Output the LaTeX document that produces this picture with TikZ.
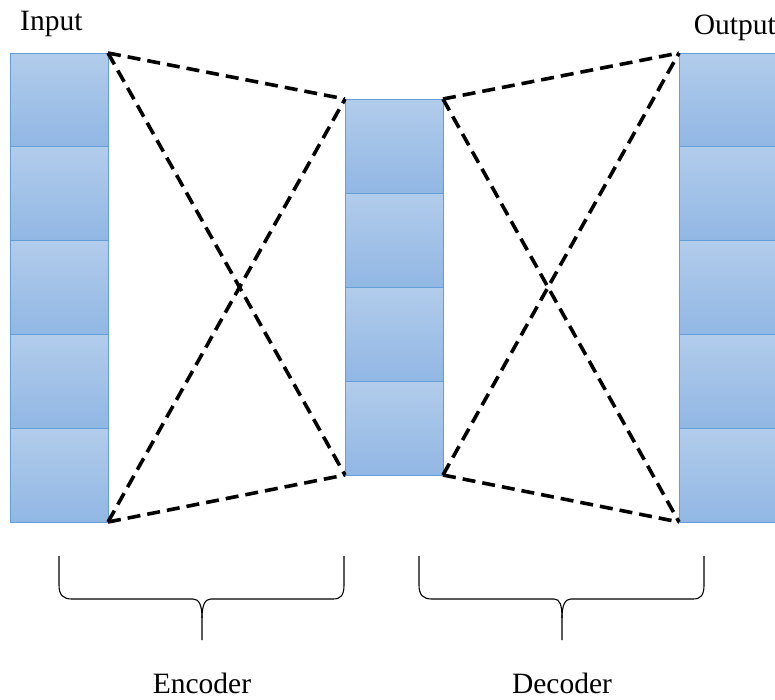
\documentclass[tikz,border=0pt]{standalone}
\usepackage{fontspec}
\setmainfont{Liberation Serif}
\definecolor{celltop}{RGB}{178,204,235}
\definecolor{cellbot}{RGB}{145,183,228}
\definecolor{cellline}{RGB}{100,158,216}
\tikzset{
  cell/.style={draw=cellline, line width=0.9pt, top color=celltop, bottom color=cellbot,
    minimum width=98pt, minimum height=94pt, inner sep=0pt, outer sep=0pt},
  column/.style={inner sep=0pt, outer sep=0pt, minimum width=98pt},
  link/.style={line width=3.6pt, dash pattern=on 13pt off 7pt, line cap=butt},
  bracepath/.style={line width=1.1pt},
  label/.style={font=\fontsize{29.5}{34}\selectfont, inner sep=0pt}
}
\begin{document}
\begin{tikzpicture}[x=1pt,y=-1pt]
\useasboundingbox (0,0) rectangle (775,699);
\begin{scope}
\clip (0,0) rectangle (775,699);
% input layer: five cells
\foreach \i in {0,...,4}
  \node[cell, anchor=north west] (in\i) at (10,53+93.8*\i) {};
% output layer: five cells, running off the right edge
\foreach \i in {0,...,4}
  \node[cell, anchor=north west] (out\i) at (679,53+93.8*\i) {};
% code layer: four cells
\foreach \i in {0,...,3}
  \node[cell, anchor=north west] (mid\i) at (345,99+94*\i) {};
\end{scope}
% whole-column frames used as connector anchors
\node[column, minimum height=469pt, anchor=north west] (in) at (10,53) {};
\node[column, minimum height=469pt, anchor=north west] (out) at (679,53) {};
\node[column, minimum height=376pt, anchor=north west] (mid) at (345,99) {};
% encoder connections
\draw[link] (in.north east) -- (mid.north west);
\draw[link] (in.north east) -- (mid.south west);
\draw[link] (in.south east) -- (mid.south west);
\draw[link] (in.south east) -- (mid.north west);
% decoder connections
\draw[link] (mid.north east) -- (out.north west);
\draw[link] (mid.north east) -- (out.south west);
\draw[link] (mid.south east) -- (out.south west);
\draw[link] (mid.south east) -- (out.north west);
% braces
\draw[bracepath] (59,556) -- (59,585) .. controls (59,595) and (63,599) .. (72,599)
  -- (193,599) .. controls (199,599) and (202,605) .. (202,618) -- (202,640);
\draw[bracepath] (202,618) .. controls (202,605) and (205,599) .. (211,599)
  -- (333,599) .. controls (341,599) and (344,595) .. (344,585) -- (344,556);
\draw[bracepath] (419,556) -- (419,585) .. controls (419,595) and (423,599) .. (432,599)
  -- (554,599) .. controls (560,599) and (562,605) .. (562,618) -- (562,640);
\draw[bracepath] (562,618) .. controls (562,605) and (565,599) .. (571,599)
  -- (693,599) .. controls (701,599) and (704,595) .. (704,585) -- (704,556);
% labels
\node[label, anchor=base west] (lin) at (20,30) {Input};
\node[label, anchor=base east] (lout) at (776,34) {Output};
\node[label, anchor=base] (lenc) at (202,693) {Encoder};
\node[label, anchor=base] (ldec) at (562,693) {Decoder};
\end{tikzpicture}
\end{document}
